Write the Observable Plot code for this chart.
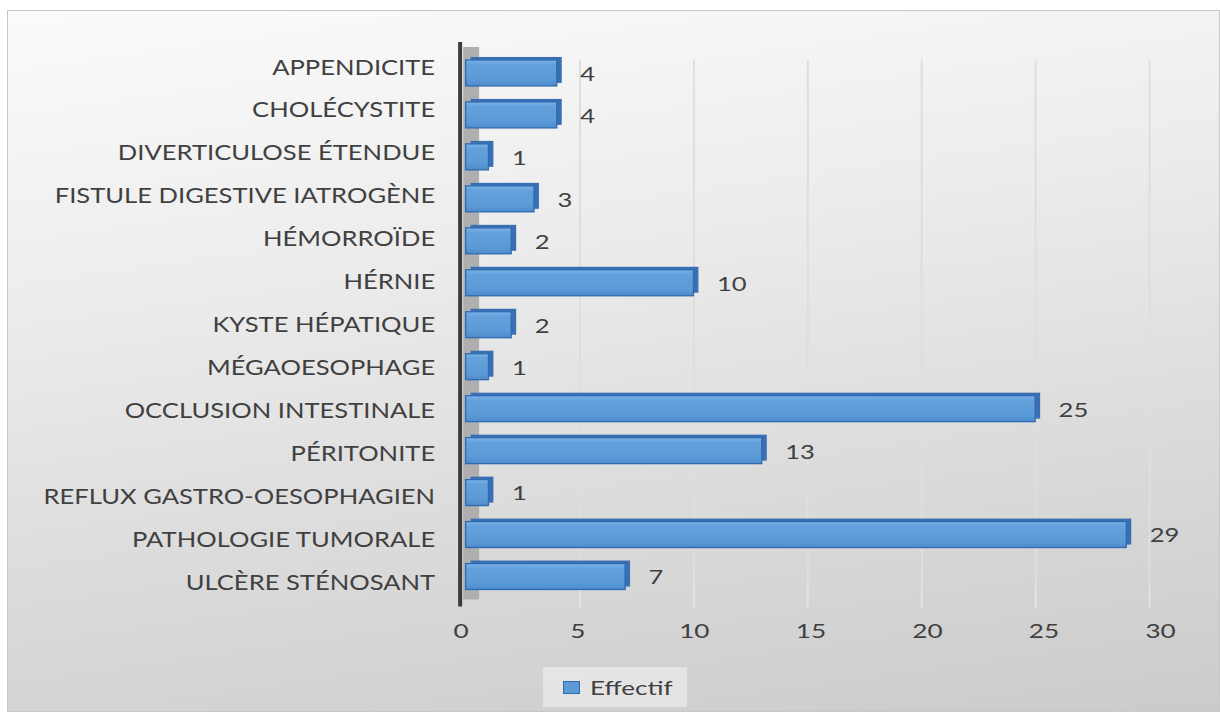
<!DOCTYPE html>
<html>
<head>
<meta charset="utf-8">
<script src="https://cdn.jsdelivr.net/npm/d3@7"></script>
<script src="https://cdn.jsdelivr.net/npm/@observablehq/plot@0.6"></script>
<style>
  html, body { margin: 0; padding: 0; background: #ffffff; }
  #frame {
    position: absolute; left: 7px; top: 10px; width: 1213px; height: 702px;
    box-sizing: border-box; border: 1px solid #c8c8c8;
    background: linear-gradient(172deg, #fbfbfb 0%, #ececec 35%, #dcdcdc 65%, #cbcbcb 100%);
    font-family: Lato, "Open Sans", sans-serif; color: #404040;
    overflow: hidden;
  }
  #chart { position: absolute; left: -1px; top: -1px; }
  #legend {
    position: absolute; left: 535px; top: 656px; width: 144px; height: 40px;
    background: rgba(236,236,236,0.7);
    display: flex; align-items: center; box-sizing: border-box; padding-left: 20px;
    font-size: 20px; color: #404040;
  }
  #legend .sw { width: 15px; height: 11px; background: #5d9bd8; border: 1.5px solid #2f6bb0; margin-right: 10px; flex: none; }
  #legend .lb { display: inline-block; transform: scaleX(1.3); transform-origin: left center; }
</style>
</head>
<body>
<div id="frame">
  <div id="chart"></div>
  <div id="legend"><span class="sw"></span><span class="lb">Effectif</span></div>
</div>
<script>
const categories = [
  "APPENDICITE",
  "CHOLÉCYSTITE",
  "DIVERTICULOSE ÉTENDUE",
  "FISTULE DIGESTIVE IATROGÈNE",
  "HÉMORROÏDE",
  "HÉRNIE",
  "KYSTE HÉPATIQUE",
  "MÉGAOESOPHAGE",
  "OCCLUSION INTESTINALE",
  "PÉRITONITE",
  "REFLUX GASTRO-OESOPHAGIEN",
  "PATHOLOGIE TUMORALE",
  "ULCÈRE STÉNOSANT"
];
const values = [4, 4, 1, 3, 2, 10, 2, 1, 25, 13, 1, 29, 7];
const xTicks = [0, 5, 10, 15, 20, 25, 30];
const seriesName = "Effectif";

const data = categories.map((c, i) => ({cat: c, value: values[i]}));

const defs = () => {
  const d = d3.create("svg:defs");
  const g = d.append("linearGradient").attr("id", "barGrad").attr("x1", 0).attr("y1", 0).attr("x2", 0).attr("y2", 1);
  g.append("stop").attr("offset", "0%").attr("stop-color", "#7db3e6");
  g.append("stop").attr("offset", "18%").attr("stop-color", "#64a1dc");
  g.append("stop").attr("offset", "75%").attr("stop-color", "#5b9ad7");
  g.append("stop").attr("offset", "100%").attr("stop-color", "#4d8bcb");
  return d.node();
};

const chart = Plot.plot({
  width: 1213,
  height: 645,
  marginLeft: 459,
  marginRight: 70,
  marginTop: 33,
  marginBottom: 48,
  style: {background: "transparent", fontFamily: "Lato, 'Open Sans', sans-serif", fontSize: "20px", color: "#404040", overflow: "visible"},
  x: {domain: [0, 30], axis: null},
  y: {domain: categories, padding: 0.37, axis: null},
  marks: [
    defs,
    // back-wall gridlines
    Plot.ruleX(xTicks.slice(1), {stroke: "#dedede", strokeWidth: 2, insetTop: 17, insetBottom: 19, ariaLabel: "grid-back"}),
    Plot.ruleX(xTicks.slice(1), {stroke: "#e4e4e4", strokeWidth: 2, insetTop: 545, insetBottom: -1, ariaLabel: "grid-floor"}),
    // side wall shading and axis line
    Plot.ruleX([0], {stroke: "#afafaf", strokeWidth: 16, dx: 5, insetTop: 4, insetBottom: 7}),
    Plot.ruleX([0], {stroke: "#3b3b3b", strokeWidth: 4, dx: -6, insetTop: -1, insetBottom: 0}),
    // 3D extrusion of bars
    Plot.barX(data, {x: "value", y: "cat", fill: "#3a70b3", dx: 5, dy: -3}),
    // bar front
    Plot.barX(data, {x: "value", y: "cat", fill: "url(#barGrad)", stroke: "#2f6bb0", strokeWidth: 1.3}),
    Plot.text(data, {x: "value", y: "cat", text: d => String(d.value), textAnchor: "start", dx: 23, dy: 1, fontSize: 20, fill: "#404040"}),
    Plot.axisY({tickSize: 0, tickPadding: 31, fontSize: 20, label: null, fill: "#404040"}),
    Plot.axisX({ticks: xTicks, tickSize: 0, tickPadding: 17, fontSize: 20, label: null, fill: "#404040"})
  ]
});
document.getElementById("chart").appendChild(chart);

// perspective adjustments (back wall is narrower, labels sit on the front edges)
function wrap(node, matrix) {
  if (!node) return;
  const w = document.createElementNS("http://www.w3.org/2000/svg", "g");
  w.setAttribute("transform", matrix);
  node.parentNode.insertBefore(w, node);
  w.appendChild(node);
}
wrap(chart.querySelector('[aria-label="grid-back"]'), "matrix(0.9614,0,0,1,32.1,0)");
wrap(chart.querySelector('[aria-label="grid-floor"]'), "matrix(0.9614,0,0.85,1,-459.2,0)");
wrap(chart.querySelector('[aria-label="x-axis tick label"]'), "matrix(1.0234,0,0,1,-15.7,0)");
wrap(chart.querySelector('[aria-label="y-axis tick label"]'), "matrix(1,0,0,1.0227,0,-6.9)");

// the source chart's text is horizontally stretched
const SX = 1.28;
chart.querySelectorAll("text").forEach(t => {
  const x = t.getAttribute("x");
  if (x != null && !isNaN(+x)) t.setAttribute("x", +x / SX);
  const tr = t.getAttribute("transform") || "";
  t.setAttribute("transform", tr + ` scale(${SX},1)`);
});
</script>
</body>
</html>
